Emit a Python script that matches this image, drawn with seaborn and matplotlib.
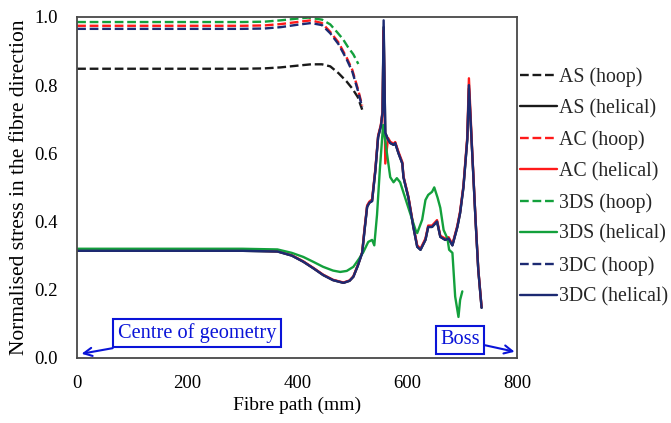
import matplotlib
matplotlib.use("Agg")
import matplotlib.pyplot as plt
import pandas as pd
import seaborn as sns

# hoop series (dashed)
x_hoop = [0, 100, 200, 300, 340, 370, 400, 425, 445, 460, 475, 490, 500, 510, 518]
as_hoop = [0.848, 0.848, 0.848, 0.848, 0.849, 0.852, 0.857, 0.861, 0.861, 0.855, 0.835, 0.81, 0.79, 0.765, 0.728]
ac_hoop = [0.974, 0.974, 0.974, 0.974, 0.975, 0.979, 0.985, 0.99, 0.982, 0.956, 0.925, 0.88, 0.845, 0.79, 0.74]
dc_hoop = [0.965, 0.965, 0.965, 0.965, 0.966, 0.970, 0.977, 0.982, 0.976, 0.952, 0.92, 0.875, 0.84, 0.785, 0.735]
x_3ds_hoop = [0, 100, 200, 300, 340, 370, 400, 420, 445, 460, 472, 483, 492, 502, 511]
ds_hoop = [0.985, 0.985, 0.985, 0.985, 0.986, 0.99, 0.995, 0.998, 0.992, 0.978, 0.956, 0.935, 0.912, 0.89, 0.862]

# helical series (solid)
x_hel = [0, 100, 200, 300, 364, 390, 411, 430, 447, 465, 484, 495, 502, 510, 518, 522, 527,
         531, 536, 542, 547, 552, 555, 557, 560, 565, 569, 575, 578, 584, 591, 593, 602, 611,
         618, 624, 633, 638, 645, 654, 660, 669, 675, 682, 691, 696, 702, 709, 712, 718, 724,
         729, 735]
as_hel = [0.314, 0.314, 0.314, 0.314, 0.312, 0.300, 0.282, 0.262, 0.243, 0.228, 0.220, 0.226,
          0.238, 0.270, 0.308, 0.370, 0.443, 0.455, 0.460, 0.550, 0.648, 0.680, 0.720, 0.970,
          0.660, 0.640, 0.630, 0.625, 0.630, 0.600, 0.570, 0.530, 0.470, 0.384, 0.326, 0.317,
          0.346, 0.384, 0.384, 0.400, 0.355, 0.346, 0.350, 0.330, 0.384, 0.425, 0.500, 0.640,
          0.790, 0.600, 0.405, 0.258, 0.147]
ac_hel = [0.315, 0.315, 0.315, 0.315, 0.313, 0.301, 0.283, 0.263, 0.244, 0.229, 0.221, 0.227,
          0.239, 0.272, 0.310, 0.375, 0.447, 0.458, 0.465, 0.555, 0.652, 0.684, 0.724, 0.960,
          0.570, 0.645, 0.634, 0.628, 0.633, 0.604, 0.574, 0.533, 0.473, 0.388, 0.330, 0.320,
          0.350, 0.388, 0.388, 0.404, 0.358, 0.350, 0.354, 0.333, 0.388, 0.430, 0.505, 0.648,
          0.820, 0.605, 0.408, 0.260, 0.150]
dc_hel = [0.314, 0.314, 0.314, 0.314, 0.312, 0.300, 0.282, 0.262, 0.243, 0.228, 0.220, 0.226,
          0.238, 0.270, 0.308, 0.370, 0.443, 0.455, 0.460, 0.550, 0.648, 0.680, 0.720, 0.990,
          0.660, 0.640, 0.630, 0.625, 0.630, 0.600, 0.570, 0.530, 0.470, 0.384, 0.326, 0.317,
          0.346, 0.384, 0.384, 0.400, 0.355, 0.346, 0.350, 0.330, 0.384, 0.425, 0.500, 0.640,
          0.800, 0.600, 0.405, 0.258, 0.147]
x_3ds_hel = [0, 100, 200, 300, 364, 390, 411, 430, 447, 465, 478, 490, 502, 512, 520, 529,
             536, 540, 545, 550, 556, 563, 569, 575, 581, 587, 596, 605, 615, 618, 627, 633,
             638, 645, 649, 655, 660, 666, 673, 676, 682, 687, 693, 696, 700]
ds_hel = [0.320, 0.320, 0.320, 0.320, 0.318, 0.308, 0.296, 0.281, 0.267, 0.256, 0.252, 0.255,
          0.267, 0.290, 0.310, 0.340, 0.346, 0.330, 0.420, 0.550, 0.683, 0.600, 0.530, 0.515,
          0.527, 0.515, 0.470, 0.425, 0.375, 0.366, 0.405, 0.463, 0.478, 0.487, 0.500, 0.470,
          0.440, 0.375, 0.350, 0.317, 0.308, 0.180, 0.120, 0.170, 0.195]

BLACK = "#1a1a1a"
RED = "#ff1a1a"
GREEN = "#13a03c"
NAVY = "#1c2a72"

series = [
    ("AS (hoop)", x_hoop, as_hoop, BLACK, "--"),
    ("AS (helical)", x_hel, as_hel, BLACK, "-"),
    ("AC (hoop)", x_hoop, ac_hoop, RED, "--"),
    ("AC (helical)", x_hel, ac_hel, RED, "-"),
    ("3DS (hoop)", x_3ds_hoop, ds_hoop, GREEN, "--"),
    ("3DS (helical)", x_3ds_hel, ds_hel, GREEN, "-"),
    ("3DC (hoop)", x_hoop, dc_hoop, NAVY, "--"),
    ("3DC (helical)", x_hel, dc_hel, NAVY, "-"),
]

sns.set_theme(style="white")
plt.rcParams["font.family"] = ["Liberation Serif", "DejaVu Serif"]

fig, ax = plt.subplots(figsize=(6.71, 4.23), dpi=100)
fig.subplots_adjust(left=0.115, right=0.771, bottom=0.154, top=0.96)

for name, xs, ys, col, ls in series:
    df = pd.DataFrame({"x": xs, "y": ys})
    line_kw = dict(dashes=(3.2, 2.2)) if ls == "--" else {}
    sns.lineplot(data=df, x="x", y="y", ax=ax, color=col, linestyle=ls,
                 linewidth=1.7, label=name, sort=False, **line_kw)

ax.set_xlim(0, 800)
ax.set_ylim(0, 1.0)
ax.set_xticks([0, 200, 400, 600, 800])
ax.set_yticks([0.0, 0.2, 0.4, 0.6, 0.8, 1.0])
ax.set_yticklabels([f"{v:.1f}" for v in [0.0, 0.2, 0.4, 0.6, 0.8, 1.0]])
ax.tick_params(labelsize=13.5, length=0, colors="black")
ax.tick_params(axis="y", pad=14)
ax.tick_params(axis="x", pad=12)
ax.set_xlabel("Fibre path (mm)", fontsize=14, color="black", labelpad=4)
ax.set_ylabel("Normalised stress in the fibre direction", fontsize=15.5, color="black",
              labelpad=4)
for sp in ax.spines.values():
    sp.set_color("#484848")
    sp.set_linewidth(1.3)

blue = "#0a14d8"
ax.annotate("Centre of geometry", xy=(8, 0.012), xytext=(218, 0.073),
            fontsize=14.7, color=blue, ha="center", va="center",
            bbox=dict(boxstyle="square,pad=0.22", fc="white", ec=blue, lw=1.5),
            arrowprops=dict(arrowstyle="->", color=blue, lw=1.5, shrinkA=0, shrinkB=0))
ax.annotate("Boss", xy=(795, 0.018), xytext=(696, 0.053),
            fontsize=14.7, color=blue, ha="center", va="center",
            bbox=dict(boxstyle="square,pad=0.22", fc="white", ec=blue, lw=1.5),
            arrowprops=dict(arrowstyle="->", color=blue, lw=1.5, shrinkA=0, shrinkB=0))

ax.legend(loc="center left", bbox_to_anchor=(1.005, 0.501), frameon=False,
          fontsize=14.3, handlelength=1.9, handletextpad=0.1, labelspacing=0.6,
          borderpad=0, borderaxespad=0)

fig.savefig("out.png", dpi=100)
